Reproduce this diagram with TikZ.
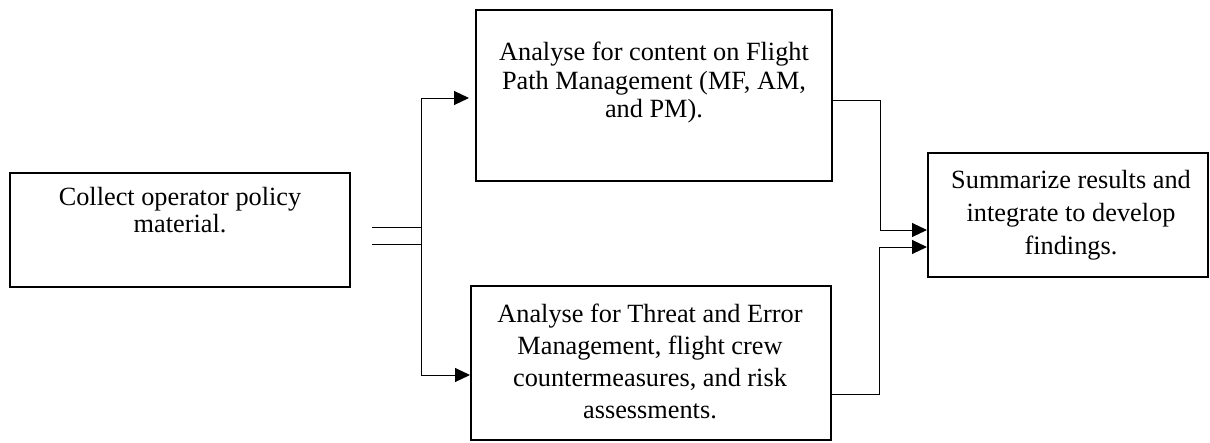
\documentclass[tikz,border=0pt]{standalone}
\usepackage{fontspec}
\setmainfont{Liberation Serif}
\usetikzlibrary{arrows.meta,calc}
\tikzset{
  boxnode/.style={draw, line width=2pt, rectangle, inner sep=0pt},
  txt/.style={anchor=north, inner sep=0pt, align=center},
  conn/.style={line width=1pt},
  arr/.style={conn, -{Triangle[length=15pt,width=14pt]}}
}
\begin{document}
\begin{tikzpicture}[x=1pt,y=-1pt]
\useasboundingbox (0,0) rectangle (1210,442);
% boxes
\node[boxnode, minimum width=340pt, minimum height=114pt] (L) at (180,230) {};
\node[boxnode, minimum width=356pt, minimum height=171pt] (T) at (654,95.5) {};
\node[boxnode, minimum width=360pt, minimum height=154pt] (B) at (651,363) {};
\node[boxnode, minimum width=280pt, minimum height=124pt] (S) at (1068,215) {};
% texts
\node[txt, font=\fontsize{26.3}{27}\selectfont] (Lt) at (180,187) {Collect operator policy\\material.};
\node[txt, font=\fontsize{26.3}{28.5}\selectfont] (Tt) at (654,42) {Analyse for content on Flight\\Path Management (MF, AM,\\and PM).};
\node[txt, font=\fontsize{26.3}{32}\selectfont] (Bt) at (650,304) {Analyse for Threat and Error\\Management, flight crew\\countermeasures, and risk\\assessments.};
\node[txt, font=\fontsize{26.3}{33}\selectfont] (St) at (1071,170) {Summarize results and\\integrate to develop\\findings.};
% left connectors
\coordinate (j1) at (372,227);
\coordinate (j2) at (372,244);
\coordinate (busT) at (421,98);
\coordinate (busB) at (421,375);
\draw[conn] (j1) -- (j1 -| busT);
\draw[conn] (j2) -- (j2 -| busT);
\draw[conn] (busT) -- (busB);
\draw[arr, shorten >=6pt] (busT) -- (busT -| T.west);
\draw[arr] (busB) -- (busB -| B.west);
% right connectors
\draw[arr] ($(T.east)+(0,4.5)$) -| ($(S.west)+(-47,15)$) -- ($(S.west)+(0,15)$);
\draw[arr] ($(B.east)+(0,31)$) -| ($(S.west)+(-48,32)$) -- ($(S.west)+(0,32)$);
\end{tikzpicture}
\end{document}
